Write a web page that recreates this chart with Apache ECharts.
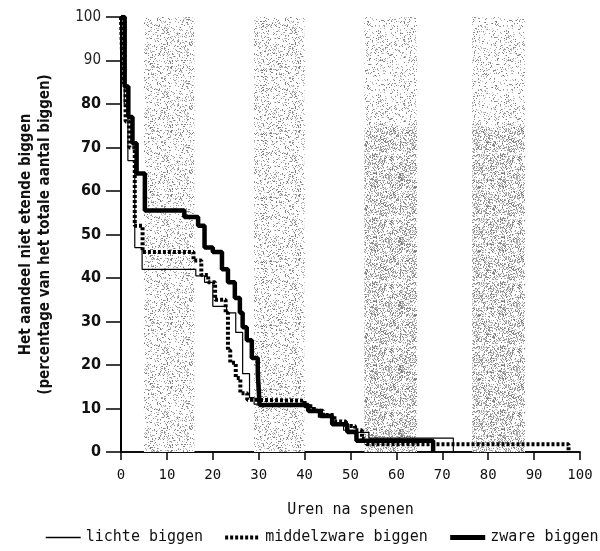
<!DOCTYPE html>
<html>
<head>
<meta charset="utf-8">
<script src="https://cdn.jsdelivr.net/npm/echarts@6/dist/echarts.min.js"></script>
<style>
html,body{margin:0;padding:0;background:#fff;}
#chart{width:600px;height:551px;}
</style>
</head>
<body>
<div id="chart"></div>
<script>
// ---- data (hours after weaning, % not eating) ----
const seriesNames = ['lichte biggen', 'middelzware biggen', 'zware biggen'];
const lichte = [[0,100],[0.7,80],[1.5,67],[3,47],[4.6,42],[16.3,40.5],[18.2,39],[20,33.5],[23,32],[25,27.5],[26.5,18],[28,12.5],[29,11],[31,10.5],[41,9.5],[43,8],[46,6.5],[48.5,5],[51,4.5],[54,3.2],[72.4,0]];
const middelzware = [[0,100],[0.4,85],[1.0,76],[1.8,70],[3,52],[4.7,46],[15.8,44],[17.5,40.7],[19,39],[20.5,35],[22.8,32],[23.3,23.4],[23.8,20.5],[25,17],[26,13.5],[27.5,12],[29,11.8],[40,10.5],[42,9.5],[44,8.5],[46.5,7],[49,6],[51,5],[52.5,3],[53.5,1.8],[97.5,0]];
const zware = [[0,100],[0.8,84],[1.6,77],[2.5,71],[3.4,64],[5.2,55.5],[13.8,54],[16.8,52],[18.2,47],[20,46],[22,42],[23.3,39],[24.8,35.4],[25.9,32],[26.5,28.7],[27.4,25.7],[28.5,21.6],[29.8,18],[30.2,10.8],[40.8,9.4],[43.5,8.3],[46,6.4],[49.3,4.6],[51.3,2.6],[68,0]];
// shaded periods [xFrom, xTo, yFrom, yTo]
const mediumBands = [[5,16,0,100],[29,40,0,100]];
const lightBands = [[53,64.5,75,100],[76.5,88,75,100]];
const darkBands = [[53,64.5,0,75],[76.5,88,0,75]];

// deterministic stipple texture
function stipple(density, seed){
  const c = document.createElement('canvas');
  c.width = 64; c.height = 64;
  const ctx = c.getContext('2d');
  const img = ctx.createImageData(64,64);
  let s = seed;
  function rnd(){ s = (s*1103515245 + 12345) & 0x7fffffff; return s/0x7fffffff; }
  for(let i=0;i<64*64;i++){
    let v = 255;
    if(rnd() < density){ v = 115 + Math.floor(rnd()*90); }
    img.data[i*4]=v; img.data[i*4+1]=v; img.data[i*4+2]=v; img.data[i*4+3]=255;
  }
  ctx.putImageData(img,0,0);
  return {image: c, repeat: 'repeat'};
}
function toAreas(list){
  return list.map(b => [{xAxis:b[0], yAxis:b[2]}, {xAxis:b[1], yAxis:b[3]}]);
}

const numFont = "'DejaVu Sans Mono', 'Liberation Mono', monospace";
const boldFont = "'Liberation Sans Narrow', 'DejaVu Sans Condensed', 'Liberation Sans', sans-serif";

const chart = echarts.init(document.getElementById('chart'), null, {renderer:'canvas'});
chart.setOption({
  animation: false,
  backgroundColor: '#fff',
  grid: {left: 121, right: 20, top: 17, bottom: 99, containLabel: false},
  legend: {
    top: 530, left: 45, width: 560, padding: 0,
    itemWidth: 35, itemHeight: 10, itemGap: 20,
    itemStyle: {opacity: 0},
    textStyle: {fontFamily: numFont, fontSize: 15, color: '#111'},
    data: [
      {name: seriesNames[0], lineStyle: {width: 1.5}},
      {name: seriesNames[1], lineStyle: {width: 4, type: [3, 2]}},
      {name: seriesNames[2], lineStyle: {width: 5}}
    ]
  },
  xAxis: [{
    type: 'value', min: 0, max: 100, interval: 10, position: 'bottom',
    name: 'Uren na spenen', nameLocation: 'middle', nameGap: 51,
    nameTextStyle: {fontFamily: numFont, fontSize: 15, color: '#111'},
    axisLine: {lineStyle: {color: '#000', width: 1.5}},
    axisTick: {length: 8, lineStyle: {color: '#000', width: 1.5}},
    axisLabel: {fontFamily: numFont, fontSize: 14, color: '#111', margin: 16},
    splitLine: {show: false}
  },{
    type: 'value', min: 0, max: 100, position: 'top',
    axisLine: {show: true, lineStyle: {color: '#000', width: 1.5}},
    axisTick: {show: false}, axisLabel: {show: false}, splitLine: {show: false}
  }],
  yAxis: [{
    type: 'value', min: 0, max: 100, interval: 10,
    name: 'Het aandeel niet etende biggen\n(percentage van het totale aantal biggen)',
    nameLocation: 'middle', nameGap: 66, nameRotate: 90,
    nameTextStyle: {fontFamily: boldFont, fontWeight: 'bold', fontSize: 15, lineHeight: 19, color: '#111'},
    axisLine: {lineStyle: {color: '#000', width: 2}},
    axisTick: {length: 15, lineStyle: {color: '#000', width: 1.5}},
    axisLabel: {
      margin: 20,
      formatter: v => (v >= 90 ? '{a|' + v + '}' : '{b|' + v + '}'),
      rich: {
        a: {fontFamily: boldFont, fontSize: 15, color: '#222'},
        b: {fontFamily: boldFont, fontSize: 16, fontWeight: 'bold', color: '#111'}
      }
    },
    splitLine: {show: false}
  },{
    type: 'value', min: 0, max: 100, position: 'right',
    axisLine: {show: true, lineStyle: {color: '#000', width: 2}},
    axisTick: {show: false}, axisLabel: {show: false}, splitLine: {show: false}
  }],
  series: [
    {
      type: 'line', name: '_bands', data: [], silent: true, z: 1,
      markArea: {silent: true, itemStyle: {color: stipple(0.2, 7)}, data: toAreas(mediumBands)}
    },
    {
      type: 'line', name: '_bands2', data: [], silent: true, z: 1,
      markArea: {silent: true, itemStyle: {color: stipple(0.14, 11)}, data: toAreas(lightBands)}
    },
    {
      type: 'line', name: '_bands3', data: [], silent: true, z: 1,
      markArea: {silent: true, itemStyle: {color: stipple(0.36, 23)}, data: toAreas(darkBands)}
    },
    {
      type: 'line', name: 'zware biggen', data: zware, step: 'end', symbol: 'none', z: 3,
      lineStyle: {color: '#000', width: 4.5}, itemStyle: {color: '#000'}
    },
    {
      type: 'line', name: 'middelzware biggen', data: middelzware, step: 'end', symbol: 'none', z: 4,
      lineStyle: {color: '#000', width: 4, type: [3, 2]}, itemStyle: {color: '#000'}
    },
    {
      type: 'line', name: 'lichte biggen', data: lichte, step: 'end', symbol: 'none', z: 5,
      lineStyle: {color: '#000', width: 1.2}, itemStyle: {color: '#000'}
    }
  ]
});
</script>
</body>
</html>
